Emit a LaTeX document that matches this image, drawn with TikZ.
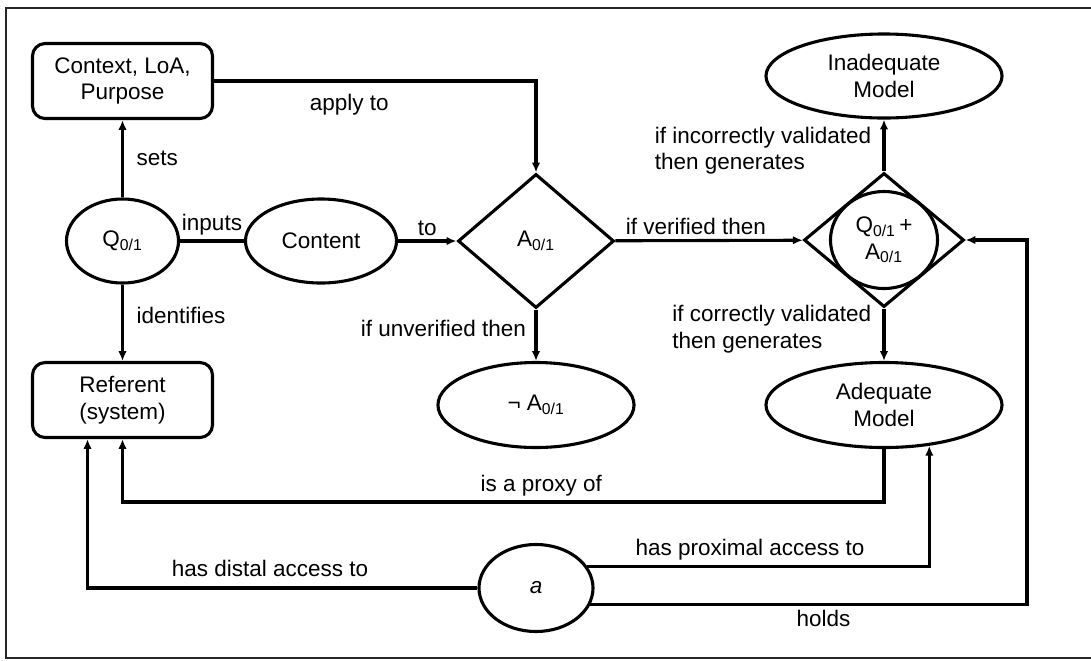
\documentclass[tikz,border=0pt]{standalone}
\usepackage{fontspec}
\setmainfont{Liberation Sans}
\usetikzlibrary{shapes.geometric, arrows.meta, calc}

\begin{document}
\begin{tikzpicture}[
        x=0.025cm, y=-0.025cm, % 1 единица = 1 пиксель
        line width=2.2pt,
        font=\fontsize{16}{19}\selectfont,
        blok/.style = {draw, rounded corners=9pt, minimum width=4.5cm, minimum height=1.875cm, align=center}, % прямоугольники
        oval/.style = {draw, ellipse, inner sep=0pt, align=center}, % эллипсы
        romb/.style = {draw, diamond, inner sep=0pt, minimum width=3.9cm, minimum height=3.35cm},
        svyaz/.style = {draw, -{Latex[length=7pt, width=6pt]}}, % стрелки
        metka/.style = {inner sep=3pt, align=left}, % подписи
    ]
    \useasboundingbox (0,0) rectangle (1091,660);
    \draw[line width=2pt, black!85] (1091,8) -- (6,8) -- (6,658) -- (1091,658);

    \node[blok] (ctx) at (122.5,81) {Context, LoA,\\Purpose};
    \node[oval, minimum width=2.8cm, minimum height=2.1cm] (q) at (122.5,241) {Q\textsubscript{0/1}};
    \node[oval, minimum width=3.775cm, minimum height=2.1cm] (cont) at (321,241) {Content};
    \node[romb] (a) at (536,241) {A\textsubscript{0/1}};
    \node[romb, minimum width=4cm] (qa) at (884,240) {};
    \node[oval, minimum width=2.675cm, minimum height=2.425cm] (qac) at (884,240) {Q\textsubscript{0/1}\,+\\A\textsubscript{0/1}};
    \node[oval, minimum width=5.9cm, minimum height=2.1cm] (inad) at (884,76) {Inadequate\\Model};
    \node[oval, minimum width=5.9cm, minimum height=2.125cm] (adeq) at (884,405) {Adequate\\Model};
    \node[oval, minimum width=4.9cm, minimum height=2.125cm] (nota) at (536,405) {¬ A\textsubscript{0/1}};
    \node[blok] (ref) at (122.5,400) {Referent\\(system)};
    \node[oval, minimum width=2.85cm, minimum height=2.175cm] (ag) at (536,588) {\textit{a}};

    \draw[svyaz] (q) -- node[metka, right=6pt] {sets} (ctx);
    \draw[svyaz] (q) -- node[metka, right=6pt, pos=0.4] {identifies} (ref);
    \draw (q) -- node[metka, above] {inputs} (cont);
    \draw[svyaz] (cont) -- node[metka, above] {to} (a);
    \draw[svyaz] (ctx.east) -| node[metka, below=5pt, pos=0.21] {apply to} (a.north);
    \draw[svyaz] (a) -- node[metka, above, pos=0.43] {if verified then} (qa);
    \draw[svyaz] (a) -- node[metka, left=3pt, pos=0.36] {if unverified then} (nota);
    \draw[svyaz] (qa) -- node[metka, left=5pt, pos=0.4] {if incorrectly validated\\then generates} (inad);
    \draw[svyaz] (qa) -- node[metka, left=5pt, pos=0.4] {if correctly validated\\then generates} (adeq);

    \coordinate (proxy) at (0,502);
    \coordinate (holdcol) at (1027,0);
    \draw[svyaz] (adeq.south) -- (adeq.south |- proxy) -| node[metka, above, pos=0.225] {is a proxy of} (ref.south);
    \draw[svyaz] (ag.west) -| node[metka, above=4pt, pos=0.266] {has distal access to} ($(ref.south)+(-35,0)$);
    \draw[svyaz] (ag.23) -| node[metka, above, pos=0.238] {has proximal access to} (adeq.-42);
    \draw[svyaz] (ag.-17) -| node[metka, below, pos=0.267] {holds} (holdcol |- qa.east) -- (qa.east);
\end{tikzpicture}
\end{document}
